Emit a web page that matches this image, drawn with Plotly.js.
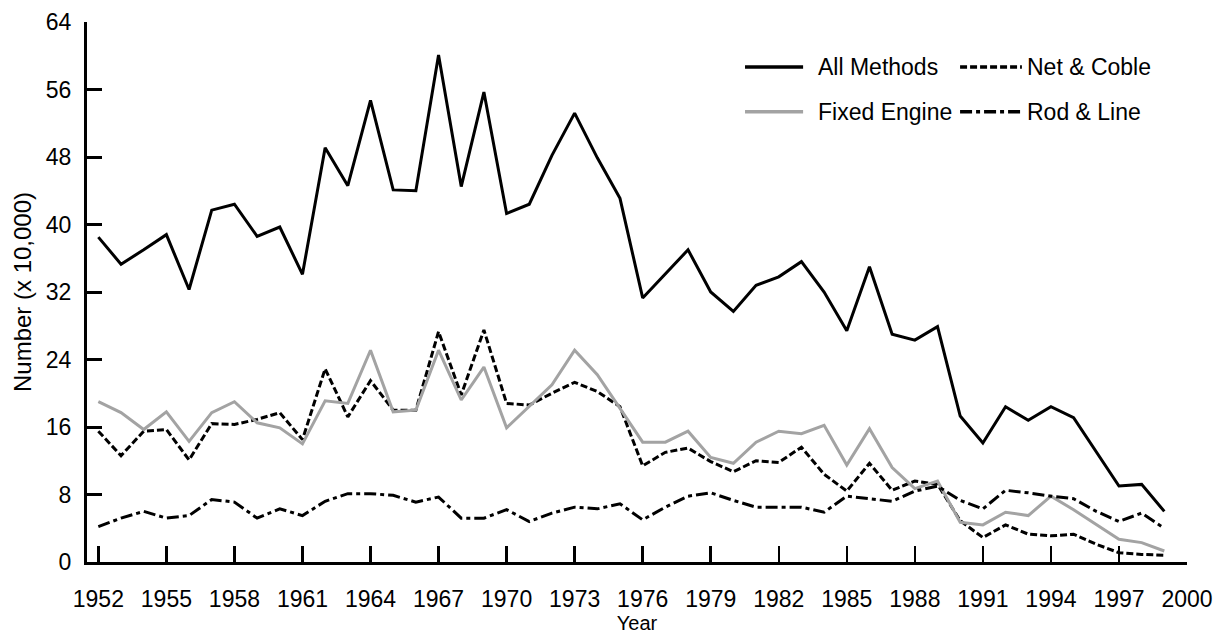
<!DOCTYPE html>
<html>
<head>
<meta charset="utf-8">
<script src="https://cdn.plot.ly/plotly-3.0.1.min.js"></script>
<style>
  html, body { margin: 0; padding: 0; background: #fff; }
  #chart { width: 1222px; height: 637px; }
</style>
</head>
<body>
<div id="chart"></div>
<script>
const years = [];
for (let y = 1952; y <= 1999; y++) years.push(y);

const allMethods = [38.5, 35.3, 37.0, 38.8, 32.3, 41.7, 42.4, 38.6, 39.7, 34.1,
  49.1, 44.6, 54.7, 44.1, 44.0, 60.1, 44.5, 55.7, 41.3, 42.4,
  48.2, 53.2, 47.9, 43.1, 31.3, 34.2, 37.0, 32.0, 29.7, 32.8,
  33.8, 35.6, 32.0, 27.4, 35.0, 27.0, 26.3, 27.9, 17.3, 14.1,
  18.4, 16.8, 18.4, 17.1, 13.1, 9.0, 9.2, 6.0];

const netCoble = [15.5, 12.6, 15.5, 15.7, 12.1, 16.4, 16.3, 16.9, 17.7, 14.5,
  22.9, 17.2, 21.5, 18.0, 18.0, 27.3, 19.8, 27.5, 18.8, 18.6,
  20.0, 21.3, 20.2, 18.4, 11.4, 13.0, 13.5, 11.9, 10.7, 12.0,
  11.8, 13.6, 10.4, 8.4, 11.7, 8.5, 9.6, 9.2, 4.9, 2.9,
  4.4, 3.3, 3.1, 3.3, 2.1, 1.1, 0.9, 0.8];

const fixedEngine = [19.0, 17.7, 15.7, 17.8, 14.3, 17.7, 19.0, 16.5, 15.9, 14.0,
  19.1, 18.8, 25.1, 17.8, 18.0, 25.1, 19.2, 23.1, 15.9, 18.4,
  21.0, 25.1, 22.2, 18.2, 14.2, 14.2, 15.5, 12.4, 11.7, 14.2,
  15.5, 15.2, 16.2, 11.5, 15.8, 11.2, 8.7, 9.6, 4.7, 4.4,
  5.9, 5.5, 7.8, 6.2, 4.5, 2.7, 2.3, 1.3];

const rodLine = [4.2, 5.2, 6.0, 5.2, 5.5, 7.4, 7.1, 5.2, 6.3, 5.5,
  7.2, 8.1, 8.1, 7.9, 7.1, 7.7, 5.2, 5.2, 6.2, 4.8,
  5.8, 6.5, 6.3, 6.9, 5.0, 6.5, 7.8, 8.2, 7.3, 6.5,
  6.5, 6.5, 5.9, 7.8, 7.5, 7.2, 8.4, 9.0, 7.3, 6.3,
  8.5, 8.2, 7.8, 7.5, 6.0, 4.8, 5.8, 4.0];

const seriesNames = ["All Methods", "Net & Coble", "Fixed Engine", "Rod & Line"];
const seriesData = [allMethods, netCoble, fixedEngine, rodLine];
const seriesColors = ["#000000", "#000000", "#a3a3a3", "#000000"];
const seriesDash = ["solid", "7px,3px", "solid", "12px,4px,4px,4px"];

const xTickVals = [1952, 1955, 1958, 1961, 1964, 1967, 1970, 1973, 1976, 1979, 1982, 1985, 1988, 1991, 1994, 1997, 2000];
const yTickVals = [0, 8, 16, 24, 32, 40, 48, 56, 64];

const FONT = "Liberation Sans, Arial, sans-serif";

const traces = seriesNames.map((name, i) => ({
  type: "scatter",
  mode: "lines",
  name: name,
  x: years,
  y: seriesData[i],
  line: { color: seriesColors[i], width: 3, dash: seriesDash[i] },
  showlegend: false
}));

// Custom legend (two columns, two rows) to match the long line samples
const legendPos = [
  { x0: 0.5982, x1: 0.651, tx: 0.6628, y: 0.9168 },
  { x0: 0.7937, x1: 0.8499, tx: 0.8529, y: 0.9168 },
  { x0: 0.5982, x1: 0.651, tx: 0.6628, y: 0.8336 },
  { x0: 0.7937, x1: 0.8499, tx: 0.8529, y: 0.8336 }
];
const shapes = seriesNames.map((n, i) => ({
  type: "line", xref: "paper", yref: "paper",
  x0: legendPos[i].x0, x1: legendPos[i].x1, y0: legendPos[i].y, y1: legendPos[i].y,
  line: { color: seriesColors[i], width: 3.5, dash: seriesDash[i] }
}));
const annotations = seriesNames.map((n, i) => ({
  xref: "paper", yref: "paper", x: legendPos[i].tx, y: legendPos[i].y,
  xanchor: "left", yanchor: "middle", showarrow: false, text: n,
  font: { family: FONT, size: 23, color: "#000" }
}));

const layout = {
  width: 1222, height: 637,
  margin: { l: 87, r: 35, t: 22, b: 75 },
  paper_bgcolor: "#fff", plot_bgcolor: "#fff",
  font: { family: FONT, color: "#000" },
  showlegend: false,
  xaxis: {
    range: [1951.5, 2000],
    tickvals: xTickVals, ticktext: xTickVals.map(String),
    ticks: "inside", ticklen: 16, tickwidth: 2.5, tickcolor: "#000",
    showline: true, linewidth: 3, linecolor: "#000",
    showgrid: false, zeroline: false,
    tickfont: { family: FONT, size: 23, color: "#000" },
    ticklabelstandoff: 14,
    title: { text: "Year", font: { family: FONT, size: 20, color: "#000" }, standoff: 6 }
  },
  yaxis: {
    range: [0, 64],
    tickvals: yTickVals, ticktext: yTickVals.map(String),
    ticks: "inside", ticklen: 15, tickwidth: 3, tickcolor: "#000",
    showline: true, linewidth: 3, linecolor: "#000",
    showgrid: false, zeroline: false,
    tickfont: { family: FONT, size: 23, color: "#000" },
    ticklabelstandoff: 8,
    title: { text: "Number (x 10,000)", font: { family: FONT, size: 24, color: "#000" }, standoff: 8 }
  },
  shapes: shapes,
  annotations: annotations
};

Plotly.newPlot("chart", traces, layout, { displayModeBar: false, staticPlot: true });
</script>
</body>
</html>
